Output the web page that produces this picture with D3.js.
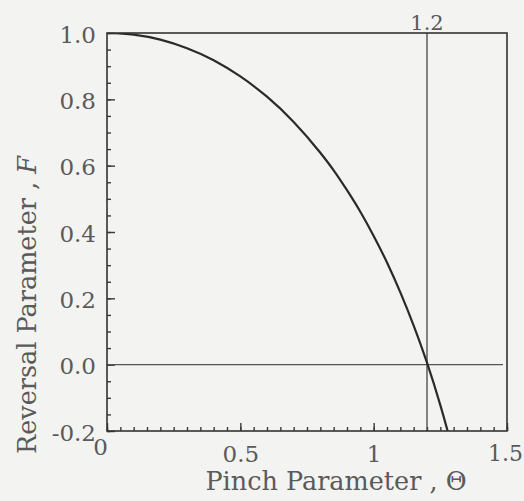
<!DOCTYPE html>
<html>
<head>
<meta charset="utf-8">
<script src="https://cdn.jsdelivr.net/npm/d3@7"></script>
<style>
  html, body { margin: 0; padding: 0; background: #f3f3f1; }
  svg { display: block; }
  .lbl { font-family: "DejaVu Serif", "Liberation Serif", serif; fill: #5a5a5a; }
</style>
</head>
<body>
<svg id="chart" width="524" height="501"></svg>
<script>
// pinch parameter (theta) and reversal parameter (F)
const theta = [0, 0.1, 0.2, 0.3, 0.4, 0.5, 0.6, 0.7, 0.8, 0.85, 0.9, 0.95, 1.0, 1.05, 1.1, 1.15, 1.2, 1.25, 1.3];
const fValues = [1.0, 0.995, 0.980, 0.954, 0.918, 0.869, 0.808, 0.732, 0.639, 0.586, 0.526, 0.461, 0.388, 0.308, 0.218, 0.118, 0.006, -0.122, -0.267];
const xMajor = [0, 0.5, 1, 1.5];
const yMajor = [-0.2, 0, 0.2, 0.4, 0.6, 0.8, 1.0];
const reversalTheta = 1.2;

const svg = d3.select('#chart');
const margin = { left: 107, right: 17, top: 33, bottom: 70 };
const width = 524 - margin.left - margin.right;
const height = 501 - margin.top - margin.bottom;

const x = d3.scaleLinear().domain([0, 1.5]).range([0, width]);
const y = d3.scaleLinear().domain([-0.2, 1.0]).range([height, 0]);

const g = svg.append('g').attr('transform', `translate(${margin.left},${margin.top})`);

svg.append('defs').append('clipPath').attr('id', 'clip')
  .append('rect').attr('width', width).attr('height', height);

const xMinor = d3.range(0, 1.5001, 0.05);
const yMinor = d3.range(-0.2, 1.0001, 0.05);

// minor ticks
g.append('g')
  .attr('transform', `translate(0,${height})`)
  .call(d3.axisBottom(x).tickValues(xMinor).tickSize(-4).tickFormat(''));
g.append('g')
  .call(d3.axisLeft(y).tickValues(yMinor).tickSize(-4).tickFormat(''));

// major ticks with labels
const xAxis = g.append('g')
  .attr('transform', `translate(0,${height})`)
  .call(d3.axisBottom(x).tickValues(xMajor).tickSize(-8).tickPadding(18)
    .tickFormat(d => String(d)));
const yAxis = g.append('g')
  .call(d3.axisLeft(y).tickValues(yMajor).tickSize(-8).tickPadding(11)
    .tickFormat(d => d.toFixed(1)));

[xAxis, yAxis].forEach(a => {
  a.select('.domain').remove();
  a.selectAll('text').attr('class', 'lbl').attr('fill', null).style('font-size', '23px');
});
g.selectAll('.tick line').attr('stroke', '#3a3a3a').attr('stroke-width', 1.4);
g.selectAll('.domain').remove();

xAxis.selectAll('text').attr('dy', '0.55em');
xAxis.selectAll('text').filter(d => d === 0).attr('dx', -7).attr('dy', '0.25em');
xAxis.selectAll('text').filter(d => d === 1.5).attr('dx', -2).attr('text-anchor', 'middle')
  .style('font-size', '22px');
yAxis.selectAll('text').attr('dy', '0.4em');

// reference lines
g.append('line')
  .attr('x1', 0).attr('x2', width - 4)
  .attr('y1', y(0)).attr('y2', y(0))
  .attr('stroke', '#555').attr('stroke-width', 1.2);
g.append('line')
  .attr('x1', x(reversalTheta)).attr('x2', x(reversalTheta))
  .attr('y1', 0).attr('y2', height)
  .attr('stroke', '#444').attr('stroke-width', 1.3);
g.append('text').attr('class', 'lbl')
  .attr('x', x(reversalTheta)).attr('y', -3)
  .attr('text-anchor', 'middle').style('font-size', '21px')
  .text('1.2');

// curve
const line = d3.line().x(d => x(d[0])).y(d => y(d[1])).curve(d3.curveMonotoneX);
g.append('path')
  .datum(d3.zip(theta, fValues))
  .attr('clip-path', 'url(#clip)')
  .attr('fill', 'none')
  .attr('stroke', '#2a2a2a')
  .attr('stroke-width', 2.2)
  .attr('d', line);

// frame
g.append('rect')
  .attr('width', width).attr('height', height)
  .attr('fill', 'none').attr('stroke', '#333').attr('stroke-width', 1.6);

// axis titles
svg.append('text').attr('class', 'lbl')
  .attr('x', 336).attr('y', 490)
  .attr('text-anchor', 'middle').style('font-size', '25.5px')
  .text('Pinch Parameter , \u0398');

const yt = svg.append('text').attr('class', 'lbl')
  .attr('transform', 'translate(36,305) rotate(-90)')
  .attr('text-anchor', 'middle').style('font-size', '25.5px');
yt.append('tspan').text('Reversal Parameter , ');
yt.append('tspan').style('font-style', 'italic').text('F');
</script>
</body>
</html>
